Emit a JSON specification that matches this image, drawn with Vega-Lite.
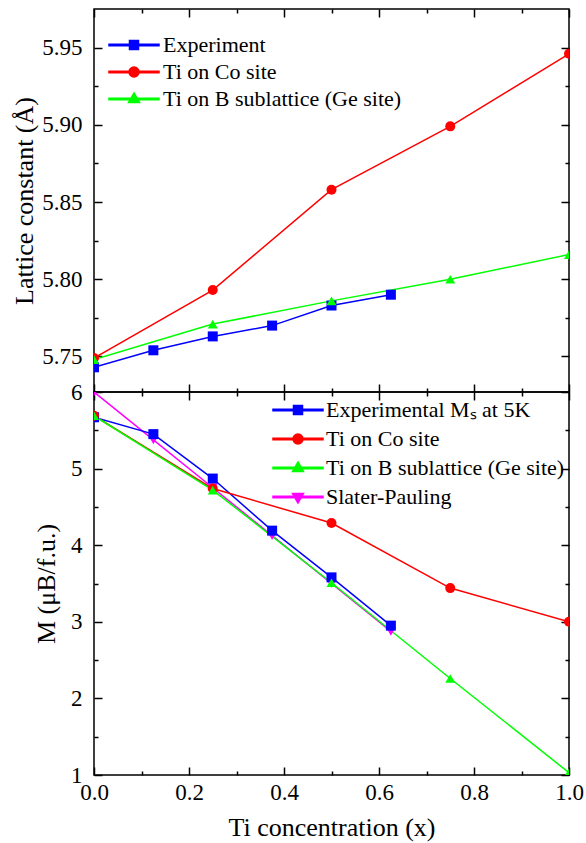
{
  "$schema": "https://vega.github.io/schema/vega-lite/v6.json",
  "padding": {"left": 11, "top": 7, "right": 5, "bottom": 5},
  "background": "white",
  "spacing": 0,
  "bounds": "flush",
  "config": {
    "view": {"stroke": "black", "strokeWidth": 1.5},
    "axis": {
      "labelFont": "Liberation Serif", "labelFontSize": 23, "labelColor": "black", "labelFlush": false,
      "titleFont": "Liberation Serif", "titleFontSize": 26, "titleFontWeight": "normal", "titleColor": "black",
      "grid": false, "domain": false, "tickColor": "black", "tickWidth": 1.5
    },
    "legend": {
      "labelFont": "Liberation Serif", "labelFontSize": 22, "labelColor": "black", "labelLimit": 0,
      "padding": 0, "symbolSize": 100, "symbolOpacity": 1, "title": null
    }
  },
  "datasets": {
    "lattice": [
      {"x": 0, "a": 5.743, "series": "Experiment"},
      {"x": 0.125, "a": 5.754, "series": "Experiment"},
      {"x": 0.25, "a": 5.763, "series": "Experiment"},
      {"x": 0.375, "a": 5.770, "series": "Experiment"},
      {"x": 0.5, "a": 5.783, "series": "Experiment"},
      {"x": 0.625, "a": 5.790, "series": "Experiment"},
      {"x": 0, "a": 5.749, "series": "Ti on Co site"},
      {"x": 0.25, "a": 5.793, "series": "Ti on Co site"},
      {"x": 0.5, "a": 5.858, "series": "Ti on Co site"},
      {"x": 0.75, "a": 5.899, "series": "Ti on Co site"},
      {"x": 1.0, "a": 5.946, "series": "Ti on Co site"},
      {"x": 0, "a": 5.748, "series": "Ti on B sublattice (Ge site)"},
      {"x": 0.25, "a": 5.771, "series": "Ti on B sublattice (Ge site)"},
      {"x": 0.5, "a": 5.786, "series": "Ti on B sublattice (Ge site)"},
      {"x": 0.75, "a": 5.800, "series": "Ti on B sublattice (Ge site)"},
      {"x": 1.0, "a": 5.816, "series": "Ti on B sublattice (Ge site)"}
    ],
    "mag": [
      {"x": 0, "m": 6.0, "series": "Slater-Pauling"},
      {"x": 0.125, "m": 5.375, "series": "Slater-Pauling"},
      {"x": 0.25, "m": 4.75, "series": "Slater-Pauling"},
      {"x": 0.375, "m": 4.125, "series": "Slater-Pauling"},
      {"x": 0.5, "m": 3.5, "series": "Slater-Pauling"},
      {"x": 0.625, "m": 2.875, "series": "Slater-Pauling"},
      {"x": 0, "m": 5.67, "series": "Experimental Mₛ at 5K"},
      {"x": 0.125, "m": 5.45, "series": "Experimental Mₛ at 5K"},
      {"x": 0.25, "m": 4.87, "series": "Experimental Mₛ at 5K"},
      {"x": 0.375, "m": 4.19, "series": "Experimental Mₛ at 5K"},
      {"x": 0.5, "m": 3.58, "series": "Experimental Mₛ at 5K"},
      {"x": 0.625, "m": 2.95, "series": "Experimental Mₛ at 5K"},
      {"x": 0, "m": 5.69, "series": "Ti on Co site"},
      {"x": 0.25, "m": 4.74, "series": "Ti on Co site"},
      {"x": 0.5, "m": 4.29, "series": "Ti on Co site"},
      {"x": 0.75, "m": 3.44, "series": "Ti on Co site"},
      {"x": 1.0, "m": 3.0, "series": "Ti on Co site"},
      {"x": 0, "m": 5.69, "series": "Ti on B sublattice (Ge site)"},
      {"x": 0.25, "m": 4.72, "series": "Ti on B sublattice (Ge site)"},
      {"x": 0.5, "m": 3.51, "series": "Ti on B sublattice (Ge site)"},
      {"x": 0.75, "m": 2.26, "series": "Ti on B sublattice (Ge site)"},
      {"x": 1.0, "m": 1.03, "series": "Ti on B sublattice (Ge site)"}
    ]
  },
  "vconcat": [
    {
      "width": 475, "height": 383,
      "data": {"name": "lattice"},
      "layer": [
        {
          "mark": {"type": "point", "filled": true, "opacity": 0},
          "encoding": {
            "x": {"field": "x", "type": "quantitative", "axis": null},
            "y": {"field": "a", "type": "quantitative", "axis": null},
            "color": {"field": "series", "type": "nominal",
              "scale": {"domain": ["Experiment", "Ti on Co site", "Ti on B sublattice (Ge site)"], "range": ["#0000ff", "#ff0000", "#00ff00"]},
              "legend": {"title": null, "orient": "none", "legendX": 29, "legendY": 25, "rowPadding": 5, "labelOffset": 18}},
            "shape": {"field": "series", "type": "nominal",
              "scale": {"domain": ["Experiment", "Ti on Co site", "Ti on B sublattice (Ge site)"],
                "range": ["M-5,-0.15H5V0.15H-5ZM-0.9,-0.9H0.9V0.9H-0.9Z", "M-5,-0.15H5V0.15H-5ZM1,0A1,1,0,1,1,-1,0A1,1,0,1,1,1,0Z", "M-5,-0.15H5V0.15H-5ZM0,-1.2L1.1,0.7L-1.1,0.7Z"]},
              "legend": {"title": null, "orient": "none", "legendX": 29, "legendY": 25, "rowPadding": 5, "labelOffset": 18}}
          }
        },
        {
          "mark": {"type": "line", "strokeWidth": 1.5, "clip": true},
          "encoding": {
            "x": {"field": "x", "type": "quantitative", "scale": {"domain": [0, 1], "nice": false, "zero": false},
              "axis": {"orient": "bottom", "values": [0, 0.1, 0.2, 0.3, 0.4, 0.5, 0.6, 0.7, 0.8, 0.9, 1.0], "labels": false, "title": null,
                "tickSize": {"condition": {"test": "round(datum.value*10)%2===0", "value": -8}, "value": -4}}},
            "y": {"field": "a", "type": "quantitative", "scale": {"domain": [5.727, 5.975], "nice": false, "zero": false},
              "axis": {"orient": "left", "values": [5.75, 5.775, 5.8, 5.825, 5.85, 5.875, 5.9, 5.925, 5.95], "title": "Lattice constant (Å)",
                "labelExpr": "round(datum.value*1000)%50===0 ? format(datum.value,'.2f') : ''", "labelPadding": 20, "titlePadding": 4,
                "tickSize": {"condition": {"test": "round(datum.value*1000)%50===0", "value": -8}, "value": -4}}},
            "stroke": {"field": "series", "type": "nominal", "legend": null,
              "scale": {"domain": ["Experiment", "Ti on Co site", "Ti on B sublattice (Ge site)"], "range": ["#0000ff", "#ff0000", "#00ff00"]}}
          }
        },
        {
          "transform": [{"filter": "datum.series === 'Experiment'"}],
          "mark": {"type": "point", "shape": "square", "filled": true, "size": 100, "opacity": 1, "clip": true},
          "encoding": {
            "x": {"field": "x", "type": "quantitative",
              "axis": {"orient": "top", "values": [0, 0.1, 0.2, 0.3, 0.4, 0.5, 0.6, 0.7, 0.8, 0.9, 1.0], "labels": false, "title": null,
                "tickSize": {"condition": {"test": "round(datum.value*10)%2===0", "value": -8}, "value": -4}}},
            "y": {"field": "a", "type": "quantitative",
              "axis": {"orient": "right", "values": [5.75, 5.775, 5.8, 5.825, 5.85, 5.875, 5.9, 5.925, 5.95], "labels": false, "title": null,
                "tickSize": {"condition": {"test": "round(datum.value*1000)%50===0", "value": -8}, "value": -4}}},
            "fill": {"field": "series", "type": "nominal", "legend": null,
              "scale": {"domain": ["Experiment", "Ti on Co site", "Ti on B sublattice (Ge site)"], "range": ["#0000ff", "#ff0000", "#00ff00"]}}
          }
        },
        {
          "transform": [{"filter": "datum.series === 'Ti on Co site'"}],
          "mark": {"type": "point", "shape": "circle", "filled": true, "size": 100, "opacity": 1, "clip": true},
          "encoding": {
            "x": {"field": "x", "type": "quantitative", "axis": null},
            "y": {"field": "a", "type": "quantitative", "axis": null},
            "fill": {"field": "series", "type": "nominal", "legend": null}
          }
        },
        {
          "transform": [{"filter": "datum.series === 'Ti on B sublattice (Ge site)'"}],
          "mark": {"type": "point", "shape": "triangle-up", "filled": true, "size": 100, "opacity": 1, "clip": true},
          "encoding": {
            "x": {"field": "x", "type": "quantitative", "axis": null},
            "y": {"field": "a", "type": "quantitative", "axis": null},
            "fill": {"field": "series", "type": "nominal", "legend": null}
          }
        }
      ],
      "resolve": {"axis": {"x": "independent", "y": "independent"}}
    },
    {
      "width": 475, "height": 383,
      "data": {"name": "mag"},
      "layer": [
        {
          "mark": {"type": "point", "filled": true, "opacity": 0},
          "encoding": {
            "x": {"field": "x", "type": "quantitative", "axis": null},
            "y": {"field": "m", "type": "quantitative", "axis": null},
            "color": {"field": "series", "type": "nominal",
              "scale": {"domain": ["Experimental Mₛ at 5K", "Ti on Co site", "Ti on B sublattice (Ge site)", "Slater-Pauling"], "range": ["#0000ff", "#ff0000", "#00ff00", "#ff00ff"]},
              "legend": {"title": null, "orient": "none", "legendX": 193, "legendY": 7, "rowPadding": 7, "labelOffset": 17}},
            "shape": {"field": "series", "type": "nominal",
              "scale": {"domain": ["Experimental Mₛ at 5K", "Ti on Co site", "Ti on B sublattice (Ge site)", "Slater-Pauling"],
                "range": ["M-5,-0.15H5V0.15H-5ZM-0.9,-0.9H0.9V0.9H-0.9Z", "M-5,-0.15H5V0.15H-5ZM1,0A1,1,0,1,1,-1,0A1,1,0,1,1,1,0Z", "M-5,-0.15H5V0.15H-5ZM0,-1.2L1.1,0.7L-1.1,0.7Z", "M-5,-0.15H5V0.15H-5ZM0,1.2L-1.1,-0.7L1.1,-0.7Z"]},
              "legend": {"title": null, "orient": "none", "legendX": 193, "legendY": 7, "rowPadding": 7, "labelOffset": 17}}
          }
        },
        {
          "mark": {"type": "line", "strokeWidth": 1.5, "clip": true},
          "encoding": {
            "x": {"field": "x", "type": "quantitative", "scale": {"domain": [0, 1], "nice": false, "zero": false},
              "axis": {"orient": "bottom", "values": [0, 0.1, 0.2, 0.3, 0.4, 0.5, 0.6, 0.7, 0.8, 0.9, 1.0], "title": "Ti concentration (x)",
                "labelExpr": "round(datum.value*10)%2===0 ? format(datum.value,'.1f') : ''", "labelPadding": 14, "titlePadding": 10,
                "tickSize": {"condition": {"test": "round(datum.value*10)%2===0", "value": -8}, "value": -4}}},
            "y": {"field": "m", "type": "quantitative", "scale": {"domain": [1, 6], "nice": false, "zero": false},
              "axis": {"orient": "left", "values": [1, 1.5, 2, 2.5, 3, 3.5, 4, 4.5, 5, 5.5, 6], "title": "M (μB/f.u.)",
                "labelExpr": "round(datum.value*10)%10===0 ? format(datum.value,'d') : ''", "labelPadding": 20, "titlePadding": 11,
                "tickSize": {"condition": {"test": "round(datum.value*10)%10===0", "value": -8}, "value": -4}}},
            "stroke": {"field": "series", "type": "nominal", "legend": null,
              "scale": {"domain": ["Experimental Mₛ at 5K", "Ti on Co site", "Ti on B sublattice (Ge site)", "Slater-Pauling"], "range": ["#0000ff", "#ff0000", "#00ff00", "#ff00ff"]}}
          }
        },
        {
          "transform": [{"filter": "datum.series === 'Slater-Pauling'"}],
          "mark": {"type": "point", "shape": "triangle-down", "filled": true, "size": 100, "opacity": 1, "clip": true},
          "encoding": {
            "x": {"field": "x", "type": "quantitative",
              "axis": {"orient": "top", "values": [0, 0.1, 0.2, 0.3, 0.4, 0.5, 0.6, 0.7, 0.8, 0.9, 1.0], "labels": false, "title": null,
                "tickSize": {"condition": {"test": "round(datum.value*10)%2===0", "value": -8}, "value": -4}}},
            "y": {"field": "m", "type": "quantitative",
              "axis": {"orient": "right", "values": [1, 1.5, 2, 2.5, 3, 3.5, 4, 4.5, 5, 5.5, 6], "labels": false, "title": null,
                "tickSize": {"condition": {"test": "round(datum.value*10)%10===0", "value": -8}, "value": -4}}},
            "fill": {"field": "series", "type": "nominal", "legend": null,
              "scale": {"domain": ["Experimental Mₛ at 5K", "Ti on Co site", "Ti on B sublattice (Ge site)", "Slater-Pauling"], "range": ["#0000ff", "#ff0000", "#00ff00", "#ff00ff"]}}
          }
        },
        {
          "transform": [{"filter": "datum.series === 'Experimental Mₛ at 5K'"}],
          "mark": {"type": "point", "shape": "square", "filled": true, "size": 100, "opacity": 1, "clip": true},
          "encoding": {
            "x": {"field": "x", "type": "quantitative", "axis": null},
            "y": {"field": "m", "type": "quantitative", "axis": null},
            "fill": {"field": "series", "type": "nominal", "legend": null}
          }
        },
        {
          "transform": [{"filter": "datum.series === 'Ti on Co site'"}],
          "mark": {"type": "point", "shape": "circle", "filled": true, "size": 100, "opacity": 1, "clip": true},
          "encoding": {
            "x": {"field": "x", "type": "quantitative", "axis": null},
            "y": {"field": "m", "type": "quantitative", "axis": null},
            "fill": {"field": "series", "type": "nominal", "legend": null}
          }
        },
        {
          "transform": [{"filter": "datum.series === 'Ti on B sublattice (Ge site)'"}],
          "mark": {"type": "point", "shape": "triangle-up", "filled": true, "size": 100, "opacity": 1, "clip": true},
          "encoding": {
            "x": {"field": "x", "type": "quantitative", "axis": null},
            "y": {"field": "m", "type": "quantitative", "axis": null},
            "fill": {"field": "series", "type": "nominal", "legend": null}
          }
        }
      ],
      "resolve": {"axis": {"x": "independent", "y": "independent"}}
    }
  ],
  "resolve": {
    "scale": {"color": "independent", "shape": "independent", "fill": "independent", "stroke": "independent"},
    "legend": {"color": "independent", "shape": "independent", "fill": "independent", "stroke": "independent"}
  }
}
